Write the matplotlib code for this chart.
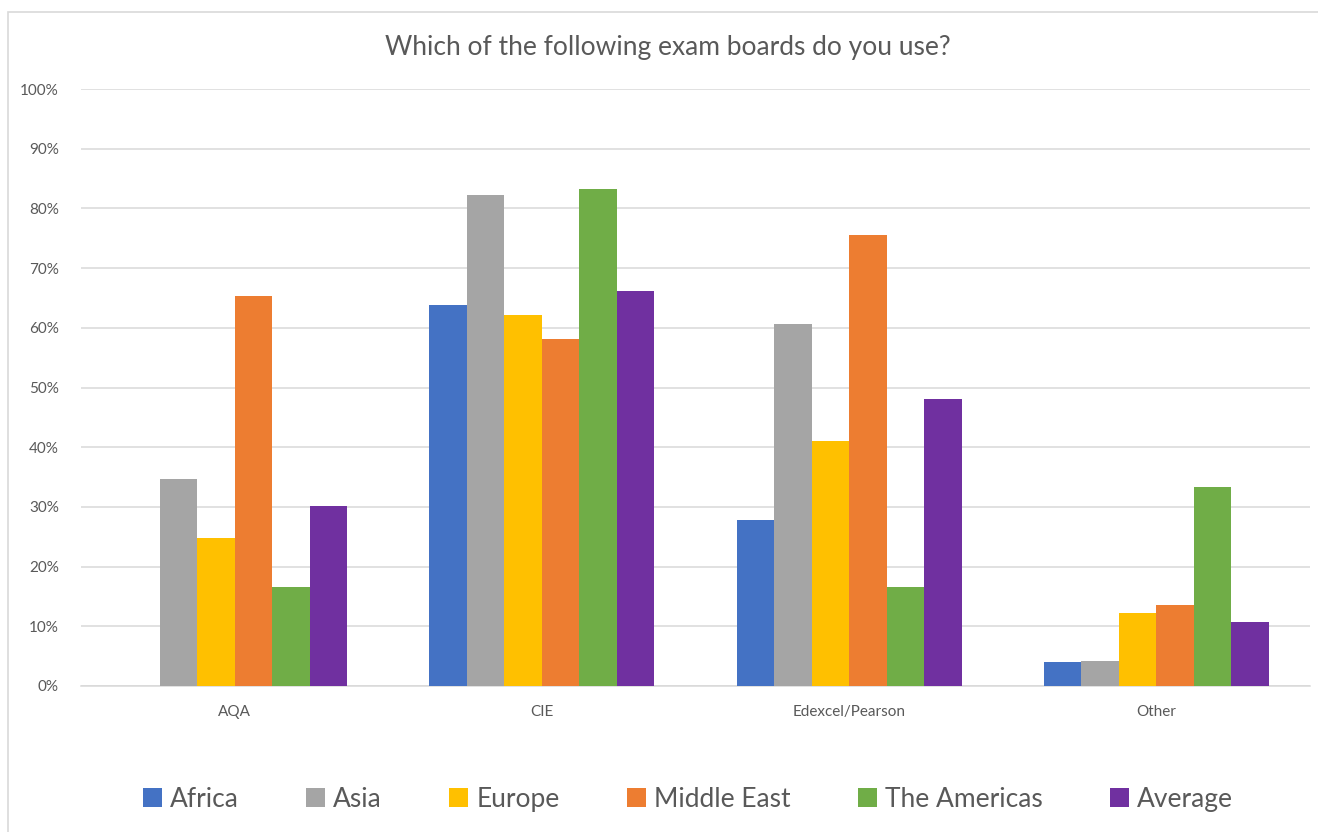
import matplotlib
matplotlib.use("Agg")
import matplotlib.pyplot as plt
from matplotlib.patches import Rectangle
from matplotlib.ticker import PercentFormatter
import numpy as np

plt.rcParams['font.family'] = ['Lato', 'DejaVu Sans']

boards = ["AQA", "CIE", "Edexcel/Pearson", "Other"]
regions = ["Africa", "Asia", "Europe", "Middle East", "The Americas", "Average"]
africa = [0.0, 63.8, 27.8, 4.0]
asia = [34.6, 82.3, 60.7, 4.2]
europe = [24.8, 62.2, 41.0, 12.2]
middle_east = [65.3, 58.2, 75.6, 13.6]
americas = [16.5, 83.2, 16.5, 33.3]
average = [30.1, 66.1, 48.0, 10.7]
colors = ["#4472C4", "#A5A5A5", "#FFC000", "#ED7D31", "#70AD47", "#7030A0"]

series = [africa, asia, europe, middle_east, americas, average]

fig = plt.figure(figsize=(13.18, 8.32), dpi=100)
ax = fig.add_axes([0.0615, 0.1755, 0.9325, 0.7175])

# outer chart border like the spreadsheet frame
fig.patches.append(Rectangle((8 / 1318, -0.1), 1.2, 1 - 12 / 832 + 0.1,
                             transform=fig.transFigure, fill=False,
                             edgecolor="#d9d9d9", linewidth=1.2))

x = np.arange(len(boards))
w = 0.122
for i, (vals, name, c) in enumerate(zip(series, regions, colors)):
    ax.bar(x + (i - 2.5) * w, vals, width=w, color=c, label=name, zorder=3)

ax.set_xlim(-0.5, 3.5)
ax.set_ylim(0, 100)
ax.set_yticks(np.arange(0, 101, 10))
ax.yaxis.set_major_formatter(PercentFormatter(decimals=0))
ax.set_xticks(x)
ax.set_xticklabels(boards)
ax.grid(axis="y", color="#d9d9d9", linewidth=1.1, zorder=0)
for s in ["top", "right", "left"]:
    ax.spines[s].set_visible(False)
ax.spines["bottom"].set_color("#d9d9d9")
ax.spines["bottom"].set_linewidth(1.1)
ax.tick_params(length=0, labelsize=11, colors="#595959", pad=14)
ax.tick_params(axis="y", pad=16)

fig.text(0.507, 0.943, "Which of the following exam boards do you use?",
         ha="center", va="center", fontsize=19, color="#595959")

fig.legend(loc="center", bbox_to_anchor=(0.522, 0.039), ncol=6, frameon=False,
           fontsize=19, labelcolor="#595959", handlelength=0.72, handleheight=0.72,
           handletextpad=0.3, columnspacing=2.55)

fig.savefig("out.png", dpi=100)
